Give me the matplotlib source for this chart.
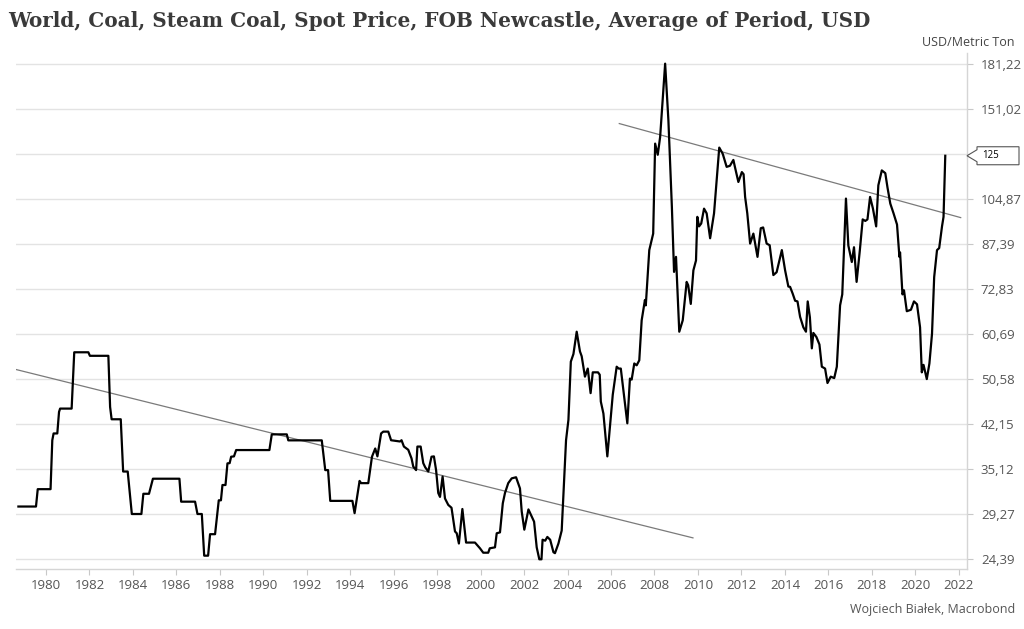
import matplotlib
matplotlib.use("Agg")
import matplotlib.pyplot as plt
from matplotlib.patches import Polygon
from matplotlib.ticker import NullLocator

plt.rcParams['font.family'] = ['Open Sans', 'DejaVu Sans']

# ---- data ----
years = [
    1978.73, 1979.54, 1979.62, 1980.21, 1980.29, 1980.35, 1980.52, 1980.60, 1980.65, 1981.18,
    1981.30, 1981.95, 1982.02, 1982.87, 1982.95, 1983.02, 1983.44, 1983.55, 1983.76, 1983.95,
    1984.39, 1984.48, 1984.74, 1984.92, 1986.14, 1986.22, 1986.86, 1986.97, 1987.17, 1987.28,
    1987.46, 1987.55, 1987.78, 1987.95, 1988.05, 1988.12, 1988.26, 1988.35, 1988.45, 1988.52,
    1988.65, 1988.75, 1990.28, 1990.39, 1991.08, 1991.15, 1992.69, 1992.85, 1992.98, 1993.08,
    1994.10, 1994.20, 1994.43, 1994.50, 1994.83, 1995.00, 1995.15, 1995.25, 1995.42, 1995.52,
    1995.75, 1995.88, 1996.29, 1996.36, 1996.47, 1996.67, 1996.82, 1996.90, 1997.03, 1997.09,
    1997.24, 1997.36, 1997.45, 1997.59, 1997.74, 1997.85, 1997.95, 1998.05, 1998.13, 1998.25,
    1998.36, 1998.51, 1998.66, 1998.82, 1998.90, 1999.00, 1999.16, 1999.33, 1999.74, 1999.97,
    2000.12, 2000.35, 2000.42, 2000.66, 2000.74, 2000.89, 2001.02, 2001.12, 2001.27, 2001.43,
    2001.63, 2001.81, 2001.89, 2002.01, 2002.20, 2002.35, 2002.46, 2002.58, 2002.70, 2002.80,
    2002.85, 2002.97, 2003.07, 2003.20, 2003.35, 2003.42, 2003.58, 2003.73, 2003.84, 2003.93,
    2004.04, 2004.15, 2004.27, 2004.42, 2004.57, 2004.65, 2004.80, 2004.93, 2005.06, 2005.16,
    2005.40, 2005.48, 2005.53, 2005.65, 2005.83, 2006.00, 2006.08, 2006.26, 2006.35, 2006.45,
    2006.57, 2006.75, 2006.87, 2006.95, 2007.07, 2007.18, 2007.30, 2007.41, 2007.56, 2007.60,
    2007.76, 2007.94, 2008.03, 2008.15, 2008.26, 2008.49, 2008.64, 2008.80, 2008.90, 2008.99,
    2009.14, 2009.30, 2009.48, 2009.55, 2009.67, 2009.79, 2009.91, 2009.97, 2010.05, 2010.15,
    2010.28, 2010.40, 2010.56, 2010.74, 2010.86, 2010.98, 2011.14, 2011.32, 2011.47, 2011.63,
    2011.70, 2011.86, 2012.02, 2012.10, 2012.17, 2012.27, 2012.40, 2012.55, 2012.74, 2012.89,
    2013.00, 2013.16, 2013.30, 2013.47, 2013.62, 2013.86, 2014.01, 2014.16, 2014.24, 2014.36,
    2014.47, 2014.58, 2014.70, 2014.85, 2014.97, 2015.05, 2015.15, 2015.24, 2015.31, 2015.45,
    2015.59, 2015.70, 2015.85, 2015.96, 2016.11, 2016.27, 2016.39, 2016.54, 2016.64, 2016.81,
    2016.92, 2017.08, 2017.18, 2017.30, 2017.45, 2017.58, 2017.70, 2017.80, 2017.92, 2018.05,
    2018.20, 2018.30, 2018.46, 2018.62, 2018.72, 2018.85, 2019.00, 2019.16, 2019.27, 2019.30,
    2019.41, 2019.48, 2019.61, 2019.80, 2019.94, 2020.08, 2020.22, 2020.30, 2020.38, 2020.53,
    2020.65, 2020.77, 2020.87, 2021.00, 2021.10, 2021.23, 2021.30, 2021.38,
]
prices = [
    30.2, 30.2, 32.4, 32.4, 39.5, 40.6, 40.6, 44.3, 44.9, 44.9,
    56.4, 56.4, 55.6, 55.6, 45.2, 43.0, 43.0, 34.8, 34.8, 29.3,
    29.3, 31.8, 31.8, 33.8, 33.8, 30.8, 30.8, 29.3, 29.3, 24.75,
    24.75, 27.0, 27.0, 30.97, 30.97, 32.95, 32.95, 35.97, 36.0, 36.95,
    37.0, 37.96, 37.96, 40.45, 40.45, 39.48, 39.48, 35.0, 35.0, 30.9,
    30.9, 29.4, 33.5, 33.2, 33.2, 36.95, 38.2, 37.0, 40.6, 40.9,
    40.9, 39.5, 39.3, 39.5, 38.5, 38.0, 36.7, 35.5, 35.0, 38.5,
    38.5, 36.0, 35.4, 34.8, 36.95, 37.0, 35.0, 31.9, 31.4, 34.1,
    31.2, 30.4, 30.05, 27.3, 27.1, 26.0, 29.9, 26.1, 26.1, 25.5,
    25.05, 25.05, 25.5, 25.6, 27.1, 27.2, 30.6, 31.9, 33.2, 33.85,
    34.0, 32.5, 29.6, 27.5, 29.85, 29.0, 28.4, 25.6, 24.39, 24.39,
    26.4, 26.3, 26.7, 26.4, 25.1, 25.0, 26.0, 27.4, 33.6, 39.5,
    42.9, 54.3, 56.0, 61.3, 56.6, 55.5, 51.1, 52.8, 47.8, 52.0,
    52.0, 51.5, 46.2, 44.0, 37.0, 44.0, 47.5, 53.2, 52.8, 52.8,
    48.3, 42.3, 50.7, 50.5, 53.9, 53.5, 54.6, 64.2, 69.7, 68.2,
    85.3, 91.2, 131.3, 125.5, 134.9, 181.5, 144.3, 101.6, 78.1, 83.0,
    61.3, 64.2, 75.0, 74.0, 68.6, 78.6, 81.8, 97.6, 93.9, 95.0,
    100.9, 99.0, 89.5, 99.0, 113.2, 129.2, 126.0, 119.5, 120.0, 122.9,
    119.5, 112.4, 117.0, 116.0, 105.8, 99.0, 87.6, 91.2, 83.0, 93.2,
    93.5, 87.6, 87.0, 77.1, 78.0, 85.3, 78.6, 73.6, 73.5, 71.5,
    69.5, 69.3, 65.1, 62.4, 61.3, 69.3, 65.0, 57.3, 61.0, 60.0,
    58.2, 53.2, 52.8, 49.8, 51.1, 50.8, 53.2, 68.2, 71.3, 105.1,
    86.9, 81.3, 86.3, 75.0, 85.3, 96.6, 96.0, 96.6, 105.8, 101.0,
    93.9, 110.9, 117.8, 116.5, 110.0, 103.0, 99.0, 94.6, 83.0, 84.5,
    71.3, 72.5, 66.6, 67.0, 69.3, 68.5, 62.4, 52.0, 53.6, 50.6,
    53.9, 60.8, 76.5, 85.3, 86.0, 93.9, 97.6, 125.0,
]

trend1_years = [1978.62, 2009.77]
trend1_values = [52.6, 26.6]
trend2_years = [2006.38, 2022.09]
trend2_values = [142.4, 97.3]

last_value_label = "125"
y_ticks = [24.39, 29.27, 35.12, 42.15, 50.58, 60.69, 72.83, 87.39, 104.87, 125.84, 151.02, 181.22]
y_tick_labels = ["24,39", "29,27", "35,12", "42,15", "50,58", "60,69", "72,83", "87,39",
                 "104,87", "", "151,02", "181,22"]
x_ticks = list(range(1980, 2023, 2))

title = "World, Coal, Steam Coal, Spot Price, FOB Newcastle, Average of Period, USD"
unit = "USD/Metric Ton"
source = "Wojciech Białek, Macrobond"

# ---- figure ----
W, H = 1024, 629
fig = plt.figure(figsize=(W / 100, H / 100), dpi=100)
ax = fig.add_axes([16 / W, 1 - 569 / H, (967 - 16) / W, (569 - 53) / H])

ax.set_yscale('log')
ax.set_xlim(1978.62, 2022.38)
ax.set_ylim(23.45, 189.5)

grid_c = '#e3e3e3'
ax.set_yticks(y_ticks)
ax.set_yticklabels(y_tick_labels)
ax.yaxis.set_minor_locator(NullLocator())
ax.set_xticks(x_ticks)
ax.set_xticklabels([str(t) for t in x_ticks])
ax.yaxis.tick_right()
ax.grid(axis='y', color=grid_c, lw=1.0)
ax.set_axisbelow(True)

for s in ['top', 'left']:
    ax.spines[s].set_visible(False)
for s in ['right', 'bottom']:
    ax.spines[s].set_color('#d5d5d5')
    ax.spines[s].set_linewidth(1.0)

ax.tick_params(axis='y', which='major', length=4, color='#c8c8c8', labelsize=9.5,
               labelcolor='#555555', pad=6)
ax.tick_params(axis='x', which='major', length=4, color='#c8c8c8', labelsize=9.5,
               labelcolor='#555555', pad=3)

ax.plot(trend1_years, trend1_values, color='#7a7a7a', lw=0.9, zorder=2)
ax.plot(trend2_years, trend2_values, color='#7a7a7a', lw=0.9, zorder=2)
ax.plot(years, prices, color='black', lw=1.6, zorder=3, solid_joinstyle='round')

# last value tag
fig.canvas.draw()
px, py = ax.transData.transform((ax.get_xlim()[1], prices[-1]))
pts = [(px, py), (px + 10, py + 6), (px + 10, py + 9), (px + 52, py + 9),
       (px + 52, py - 9), (px + 10, py - 9), (px + 10, py - 6)]
pts_f = [(x / W, y / H) for x, y in pts]
tag = Polygon(pts_f, closed=True, facecolor='white', edgecolor='#555555', lw=0.8,
              transform=fig.transFigure)
fig.add_artist(tag)
fig.text((px + 15) / W, py / H, last_value_label, ha='left', va='center', fontsize=7,
         color='black')

# title, fitted to the reference width
t = fig.text(8 / W, 1 - 27 / H, title, ha='left', va='baseline', fontsize=14,
             fontweight='bold', color='#3a3a3a', family=['DejaVu Serif'])
r = fig.canvas.get_renderer()
wpx = t.get_window_extent(renderer=r).width
t.set_fontsize(14 * 862 / wpx)

fig.text(1015 / W, 1 - 42 / H, unit, ha='right', va='center', fontsize=9, color='#444444')
fig.text(1015 / W, 1 - 610 / H, source, ha='right', va='center', fontsize=9, color='#555555')

fig.savefig('out.png', dpi=100)
